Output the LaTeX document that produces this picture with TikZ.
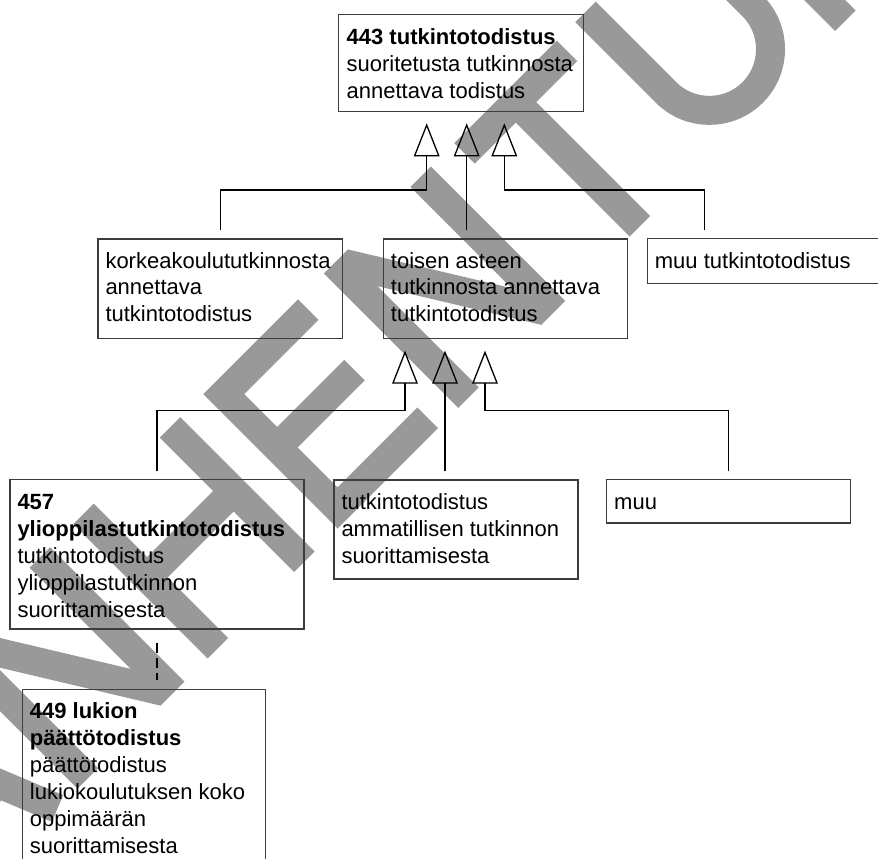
\documentclass[tikz,border=0pt]{standalone}
\usepackage{fontspec}
\setmainfont{Liberation Sans}
\usetikzlibrary{arrows.meta,calc}
\definecolor{wm}{RGB}{153,153,153}
\definecolor{bx}{RGB}{60,60,60}
\begin{document}
\begin{tikzpicture}[x=1pt,y=-1pt,
  box/.style={draw=bx, line width=1.3pt, inner sep=0pt, anchor=north west},
  txt/.style={anchor=base west, inner sep=0pt, font=\fontsize{22}{26.9}\selectfont},
  conn/.style={line width=1.3pt, draw=black},
  gen/.style={conn, -{Triangle[open, length=33pt, width=25.6pt]}},
  wmline/.style={draw=wm, line width=29pt, line cap=butt, line join=miter},
  wmfill/.style={fill=wm, draw=none}]
\useasboundingbox (0,0) rectangle (878,859);

% watermark "VANHENTUNUT"
\begin{scope}[shift={(433,433)}, x=1pt, y=1pt, rotate=45]
  \begin{scope}[xshift=-859pt]% V
    \draw[wmline] (12,190) -- (85,5) -- (158,190);
  \end{scope}
  \begin{scope}[xshift=-689pt]% A
    \draw[wmline] (12,0) -- (85,180) -- (158,0);
    \draw[wmline] (40,60) -- (130,60);
  \end{scope}
  \begin{scope}[xshift=-519pt]% N
    \fill[wmfill] (16.1,0) -- (16.1,190) -- (50.1,190) -- (138.5,46.9) -- (138.5,190) -- (167.5,190) -- (167.5,0) -- (133.5,0) -- (45.1,143.1) -- (45.1,0) -- cycle;
  \end{scope}
  \begin{scope}[xshift=-335pt]% H
    \draw[wmline] (30.6,0) -- (30.6,190);
    \draw[wmline] (153,0) -- (153,190);
    \draw[wmline] (30.6,100) -- (153,100);
  \end{scope}
  \begin{scope}[xshift=-151pt]% E
    \draw[wmline] (150,175.5) -- (30.6,175.5) -- (30.6,14.5) -- (158,14.5);
    \draw[wmline] (30.6,100) -- (140,100);
  \end{scope}
  \begin{scope}[xshift=19.5pt]% N
    \fill[wmfill] (16.1,0) -- (16.1,190) -- (50.1,190) -- (138.5,46.9) -- (138.5,190) -- (167.5,190) -- (167.5,0) -- (133.5,0) -- (45.1,143.1) -- (45.1,0) -- cycle;
  \end{scope}
  \begin{scope}[xshift=215pt]% T
    \draw[wmline] (77.5,0) -- (77.5,175.5);
    \draw[wmline] (5,175.5) -- (150,175.5);
  \end{scope}
  \begin{scope}[xshift=375pt]% U
    \draw[wmline] (30.6,190) -- (30.6,76) arc[start angle=180, end angle=360, radius=61.2] -- (153,190);
  \end{scope}
  \begin{scope}[xshift=552.5pt]% N
    \fill[wmfill] (16.1,0) -- (16.1,190) -- (50.1,190) -- (138.5,46.9) -- (138.5,190) -- (167.5,190) -- (167.5,0) -- (133.5,0) -- (45.1,143.1) -- (45.1,0) -- cycle;
  \end{scope}
  \begin{scope}[xshift=742pt]% U
    \draw[wmline] (30.6,190) -- (30.6,76) arc[start angle=180, end angle=360, radius=61.2] -- (153,190);
  \end{scope}
  \begin{scope}[xshift=927pt]% T
    \draw[wmline] (77.5,0) -- (77.5,175.5);
    \draw[wmline] (5,175.5) -- (150,175.5);
  \end{scope}
\end{scope}

% boxes
\node[box, minimum width=245pt, minimum height=97pt] (top) at (338,14) {};
\node[box, minimum width=244.4pt, minimum height=99.2pt] (kork) at (97.3,238.3) {};
\node[box, minimum width=244pt, minimum height=99.4pt] (toisen) at (382.7,238.3) {};
\node[box, minimum width=244pt, minimum height=44.7pt] (muutk) at (646.7,238) {};
\node[box, minimum width=294pt, minimum height=149.8pt] (y457) at (9.3,478.5) {};
\node[box, minimum width=244pt, minimum height=99pt] (amm) at (333.3,479.3) {};
\node[box, minimum width=244pt, minimum height=43.3pt] (muu) at (606,479) {};
\node[box, minimum width=243.3pt, minimum height=180pt] (l449) at (21.7,688.5) {};

% texts
\node[txt] (topT) at (346.5,44.8) {\parbox[t]{400pt}{\textbf{443 tutkintotodistus}\\suoritetusta tutkinnosta\\annettava todistus}};
\node[txt] (korkT) at (105.3,268) {\parbox[t]{400pt}{korkeakoulututkinnosta\\annettava\\tutkintotodistus}};
\node[txt] (toisenT) at (390.7,268) {\parbox[t]{400pt}{toisen asteen\\tutkinnosta annettava\\tutkintotodistus}};
\node[txt] (muutkT) at (654.7,268.5) {muu tutkintotodistus};
\node[txt] (y457T) at (17.3,509.5) {\parbox[t]{400pt}{\textbf{457}\\\textbf{ylioppilastutkintotodistus}\\tutkintotodistus\\ylioppilastutkinnon\\suorittamisesta}};
\node[txt] (ammT) at (341.3,509.5) {\parbox[t]{400pt}{tutkintotodistus\\ammatillisen tutkinnon\\suorittamisesta}};
\node[txt] (muuT) at (614,509.5) {muu};
\node[txt] (l449T) at (29.7,718.8) {\parbox[t]{400pt}{\textbf{449 lukion}\\\textbf{päättötodistus}\\päättötodistus\\lukiokoulutuksen koko\\oppimäärän\\suorittamisesta}};

% connectors, upper level
\coordinate (j1) at (426.7,190);
\coordinate (j2) at (466.7,190);
\coordinate (j3) at (504.3,190);
\coordinate (c3) at (704.3,190);
\draw[gen, shorten >=11pt] ($(kork.north)+(0,-8)$) |- (j1) -- (j1 |- top.south);
\draw[gen, shorten >=11pt] ($(toisen.north -| j2)+(0,-8)$) -- (j2 |- top.south);
\draw[gen, shorten >=11pt] ($(muutk.north -| c3)+(0,-8)$) |- (j3) -- (j3 |- top.south);

% connectors, lower level
\coordinate (k1) at (405,410.5);
\coordinate (k2) at (445,410.5);
\coordinate (k3) at (485,410.5);
\draw[gen, shorten >=11.6pt] ($(y457.north)+(0,-8)$) |- (k1) -- (k1 |- toisen.south);
\draw[gen, shorten >=11.6pt] ($(amm.north -| k2)+(0,-8)$) -- (k2 |- toisen.south);
\draw[gen, shorten >=11.6pt] ($(muu.north)+(0,-8)$) |- (k3) -- (k3 |- toisen.south);

% dashed link
\draw[conn, dash pattern=on 10pt off 5pt, shorten <=13.4pt, shorten >=8.5pt] (y457.south) -- (y457.south |- l449.north);
\end{tikzpicture}
\end{document}
